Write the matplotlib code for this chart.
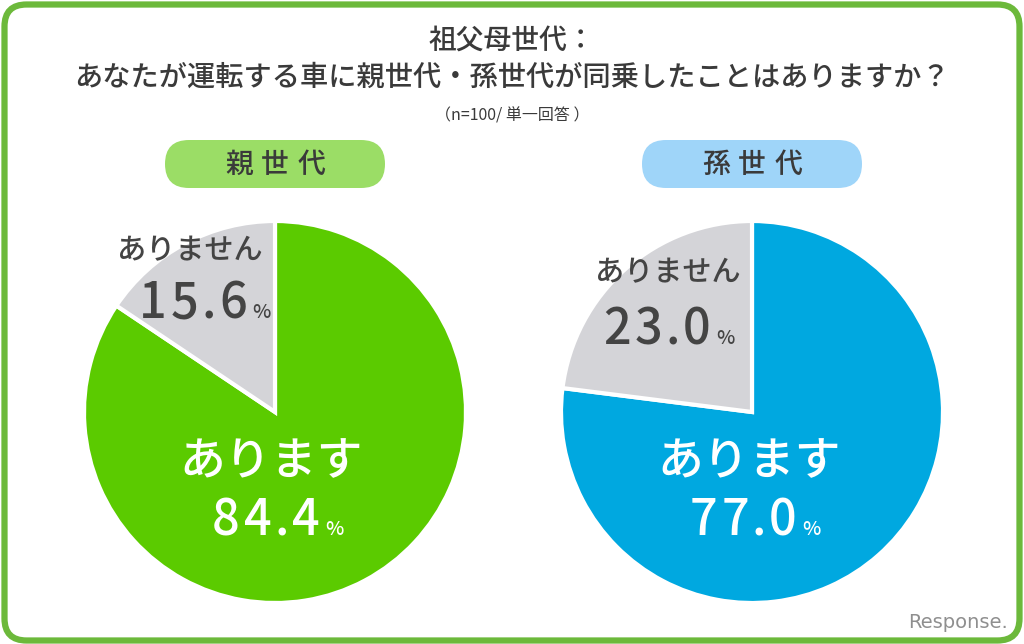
import matplotlib
matplotlib.use("Agg")
import matplotlib.pyplot as plt
from matplotlib.patches import FancyBboxPatch

plt.rcParams['font.family'] = ['Noto Sans CJK JP', 'DejaVu Sans']

# ---- data ----
title_line1 = "祖父母世代："
title_line2 = "あなたが運転する車に親世代・孫世代が同乗したことはありますか？"
subtitle = "（n=100/ 単一回答 ）"
categories = ["あります", "ありません"]
groups = ["親世代", "孫世代"]
oya_values = [84.4, 15.6]
mago_values = [77.0, 23.0]
value_labels = [["84.4", "15.6"], ["77.0", "23.0"]]

W, H = 1024, 644
fig = plt.figure(figsize=(W / 100, H / 100), dpi=100)
ax = fig.add_axes([0, 0, 1, 1])
ax.set_xlim(0, W)
ax.set_ylim(0, H)
ax.axis('off')

def Y(py):
    return H - py

# border
border = FancyBboxPatch((4.5, 3.5), W - 9, H - 8, boxstyle="round,pad=0,rounding_size=22",
                        facecolor='white', edgecolor='#6cb93b', linewidth=4.5, zorder=0)
ax.add_patch(border)

txt_dark = '#3a3a3a'
ax.text(W / 2, Y(40), title_line1, ha='center', va='center', fontsize=20, color=txt_dark, weight='medium')
ax.text(W / 2, Y(77), title_line2, ha='center', va='center', fontsize=20.3, color=txt_dark, weight='medium')
ax.text(W / 2, Y(116), subtitle, ha='center', va='center', fontsize=11.5, color=txt_dark)

# pies
centers = [(275, 412), (752, 412)]
radius = 191
colors = [["#5bcb00", "#d4d4d8"], ["#00a8e0", "#d4d4d8"]]
pill_colors = ["#9bdd66", "#9fd5f9"]
datasets = [oya_values, mago_values]

for i, (vals, (cx, cy)) in enumerate(zip(datasets, centers)):
    ax.pie(vals, colors=colors[i], startangle=90, counterclock=False,
           center=(cx, Y(cy)), radius=radius, frame=True,
           wedgeprops=dict(edgecolor='white', linewidth=3))
    pw, ph = 220, 48
    pill = FancyBboxPatch((cx - pw / 2, Y(164) - ph / 2), pw, ph,
                          boxstyle="round,pad=0,rounding_size=24",
                          facecolor=pill_colors[i], edgecolor='none', zorder=3)
    ax.add_patch(pill)
    for k, ch in enumerate(groups[i]):
        ax.text(cx - 36 + 36 * k, Y(164), ch, ha='center', va='center',
                fontsize=20, color=txt_dark, weight='medium', zorder=4)

ax.set_xlim(0, W)
ax.set_ylim(0, H)
ax.set_aspect('auto')
ax.axis('off')


def spaced_number(x0, base_py, s, color):
    x = x0
    for ch in s:
        w = 16 if ch == '.' else 32
        ax.text(x + w / 2, Y(base_py), ch, ha='center', va='baseline', fontsize=35,
                color=color, weight='medium', zorder=5)
        x += w
    ax.text(x + 3, Y(base_py), "%", ha='left', va='baseline', fontsize=14,
            color=color, weight='medium', zorder=5)


# label positions: (text center x, text y, number left x, number baseline y)
label_pos = [
    [(271, 462, 210, 535), (190, 251, 137, 318)],
    [(749, 462, 687, 535), (668, 273, 601, 344)],
]
for i in range(2):
    (yx, yy, yx0, yb), (nx, ny, nx0, nb) = label_pos[i]
    ax.text(yx, Y(yy), categories[0], ha='center', va='center', fontsize=33,
            color='white', weight='medium', zorder=5)
    spaced_number(yx0, yb, value_labels[i][0], 'white')
    ax.text(nx, Y(ny), categories[1], ha='center', va='center', fontsize=21,
            color='#444444', weight='medium', zorder=5)
    spaced_number(nx0, nb, value_labels[i][1], '#444444')

# watermark
ax.text(1008, Y(622), "Response.", ha='right', va='center', fontsize=14, color='#8f8f8f',
        family=['DejaVu Sans'], zorder=5)

fig.savefig("out.png", dpi=100)
